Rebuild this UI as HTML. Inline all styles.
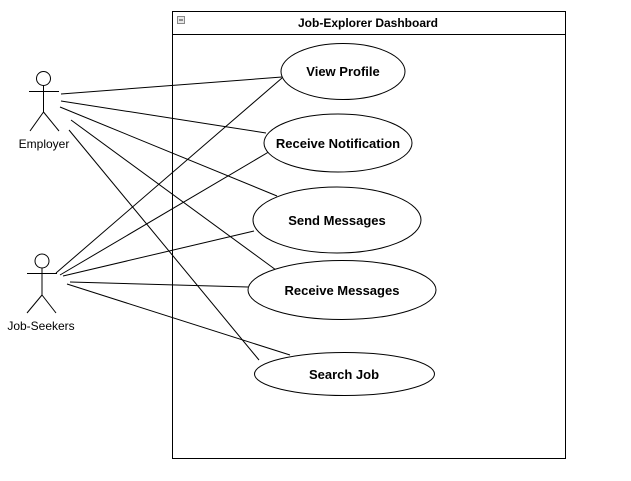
<!DOCTYPE html>
<html><head><style>html,body{margin:0;padding:0;background:#fff;}</style></head>
<body>
<svg width="631" height="476" xmlns="http://www.w3.org/2000/svg" font-family="Liberation Sans, Arial, sans-serif">
<rect x="0" y="0" width="631" height="476" fill="#fff"/>
<rect x="172.5" y="11.5" width="393" height="447" fill="#fff" stroke="#000"/>
<line x1="172.5" y1="34.5" x2="565.5" y2="34.5" stroke="#000"/>
<rect x="177.5" y="16.5" width="7" height="7" fill="#e8e8e8" stroke="#888"/>
<line x1="179" y1="20" x2="183" y2="20" stroke="#333"/>
<text x="368" y="27" font-size="12" font-weight="bold" text-anchor="middle">Job-Explorer Dashboard</text>
<g stroke="#000" stroke-width="1" fill="none">
<line x1="61" y1="94" x2="282" y2="77"/>
<line x1="61" y1="101" x2="266" y2="133"/>
<line x1="60" y1="107" x2="277" y2="196"/>
<line x1="71" y1="120" x2="276" y2="270"/>
<line x1="69" y1="130" x2="259" y2="360"/>
<line x1="56" y1="273" x2="282" y2="78"/>
<line x1="60" y1="275" x2="272" y2="150"/>
<line x1="63" y1="276" x2="254" y2="231"/>
<line x1="70" y1="282" x2="248" y2="287"/>
<line x1="67" y1="284" x2="290" y2="355"/>
</g>
<g stroke="#000" fill="#fff">
<ellipse cx="343" cy="71.5" rx="62" ry="28"/>
<ellipse cx="338" cy="143" rx="74" ry="29"/>
<ellipse cx="337" cy="220" rx="84" ry="33"/>
<ellipse cx="342" cy="290" rx="94" ry="29.5"/>
<ellipse cx="344.5" cy="374" rx="90" ry="21.5"/>
</g>
<g font-size="13" font-weight="bold" text-anchor="middle">
<text x="343" y="76">View Profile</text>
<text x="338" y="148">Receive Notification</text>
<text x="337" y="225">Send Messages</text>
<text x="342" y="295">Receive Messages</text>
<text x="344" y="379">Search Job</text>
</g>
<g stroke="#000" fill="#fff">
<circle cx="43.5" cy="78.5" r="7"/>
<line x1="43.5" y1="85.5" x2="43.5" y2="112"/>
<line x1="29" y1="91.5" x2="59" y2="91.5"/>
<line x1="43.5" y1="112" x2="30" y2="131"/>
<line x1="43.5" y1="112" x2="59" y2="131"/>
<circle cx="42" cy="261" r="7"/>
<line x1="42" y1="268" x2="42" y2="295"/>
<line x1="27" y1="273.5" x2="57" y2="273.5"/>
<line x1="42" y1="295" x2="27" y2="313"/>
<line x1="42" y1="295" x2="56" y2="313"/>
</g>
<text x="44" y="148" font-size="12" text-anchor="middle">Employer</text>
<text x="41" y="330" font-size="12" text-anchor="middle">Job-Seekers</text>
</svg>
</body></html>
